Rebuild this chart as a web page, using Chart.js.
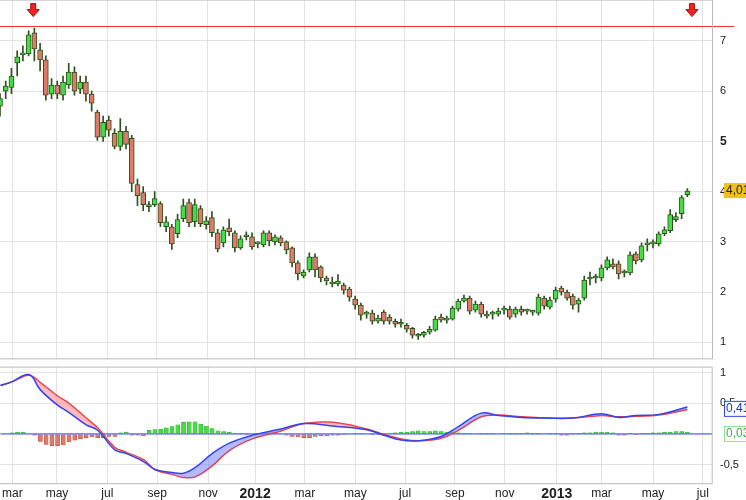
<!DOCTYPE html>
<html><head><meta charset="utf-8">
<script src="https://cdn.jsdelivr.net/npm/chart.js@4.4.0/dist/chart.umd.min.js"></script>
<style>
html,body{margin:0;padding:0;background:#fff;overflow:hidden;}
#w1{position:absolute;left:0;top:-15px;width:746px;height:389px;}
#w2{position:absolute;left:0;top:352px;width:746px;height:153px;}
</style></head><body>
<div id="w1"><canvas id="c1"></canvas></div>
<div id="w2"><canvas id="c2"></canvas></div>
<script>
// weekly candles
const opens=[5.70,6.00,6.07,6.56,6.72,6.74,7.16,6.82,6.62,5.94,6.12,5.92,6.12,6.38,6.04,6.18,5.94,5.58,5.08,5.42,5.16,4.90,5.20,5.06,4.14,3.98,3.70,3.74,3.76,3.30,3.30,3.16,3.46,3.78,3.40,3.66,3.34,3.48,3.18,2.98,3.28,3.18,2.88,3.10,3.10,2.96,2.94,3.18,3.00,3.08,3.00,2.88,2.58,2.32,2.44,2.70,2.50,2.28,2.16,2.16,2.14,2.06,1.86,1.74,1.56,1.58,1.42,1.60,1.50,1.42,1.36,1.34,1.28,1.12,1.14,1.20,1.24,1.50,1.44,1.46,1.66,1.82,1.88,1.64,1.76,1.56,1.56,1.56,1.64,1.66,1.56,1.66,1.62,1.60,1.58,1.88,1.70,1.86,2.08,2.00,1.92,1.76,1.88,2.26,2.28,2.28,2.48,2.56,2.56,2.38,2.38,2.76,2.64,2.94,2.96,2.96,3.16,3.22,3.44,3.56,3.94];
const closes=[5.85,6.10,6.30,6.68,6.72,7.12,6.84,6.62,5.92,6.12,5.94,6.18,6.38,6.00,6.18,5.94,5.76,5.08,5.38,5.22,4.90,5.20,4.94,4.16,3.92,3.74,3.70,3.86,3.38,3.40,2.96,3.44,3.72,3.38,3.74,3.36,3.42,3.18,2.86,3.24,3.20,2.88,3.06,3.10,2.90,2.96,3.18,3.02,3.10,2.98,2.84,2.58,2.36,2.40,2.70,2.44,2.28,2.22,2.16,2.22,2.04,1.90,1.74,1.54,1.56,1.42,1.48,1.42,1.42,1.36,1.36,1.26,1.14,1.12,1.20,1.26,1.46,1.44,1.48,1.68,1.82,1.88,1.62,1.76,1.56,1.52,1.56,1.62,1.66,1.50,1.66,1.60,1.62,1.60,1.90,1.72,1.84,2.04,2.00,1.88,1.74,1.84,2.24,2.26,2.28,2.48,2.64,2.50,2.36,2.38,2.74,2.62,2.92,2.94,2.96,3.16,3.24,3.54,3.50,3.88,4.01];
const highs=[5.95,6.20,6.45,6.80,6.90,7.20,7.25,6.95,6.70,6.25,6.20,6.30,6.55,6.48,6.30,6.30,6.00,5.62,5.50,5.50,5.25,5.45,5.30,5.12,4.25,4.10,3.80,4.00,3.80,3.50,3.35,3.55,3.85,3.85,3.85,3.72,3.50,3.60,3.25,3.30,3.45,3.22,3.12,3.20,3.18,3.00,3.22,3.22,3.14,3.12,3.02,2.90,2.62,2.44,2.78,2.76,2.52,2.32,2.30,2.35,2.18,2.10,1.92,1.78,1.62,1.64,1.54,1.64,1.55,1.46,1.46,1.38,1.30,1.18,1.22,1.32,1.52,1.56,1.52,1.72,1.86,1.94,1.92,1.82,1.80,1.62,1.62,1.68,1.72,1.72,1.70,1.72,1.66,1.64,1.96,1.92,1.90,2.10,2.12,2.04,1.96,1.88,2.32,2.40,2.36,2.54,2.70,2.66,2.62,2.44,2.80,2.80,2.98,3.06,3.04,3.20,3.30,3.64,3.58,3.92,4.06];
const lows=[5.50,5.85,5.95,6.30,6.60,6.70,6.60,6.40,5.82,5.85,5.85,5.82,6.05,5.92,5.95,5.80,5.60,5.02,5.00,5.10,4.85,4.82,4.85,4.00,3.72,3.62,3.60,3.70,3.30,3.20,2.85,3.08,3.40,3.30,3.30,3.30,3.25,3.10,2.80,2.90,3.12,2.80,2.85,3.04,2.85,2.88,2.90,2.92,2.94,2.92,2.76,2.50,2.24,2.28,2.40,2.30,2.20,2.14,2.10,2.12,1.96,1.82,1.66,1.44,1.48,1.36,1.38,1.36,1.36,1.30,1.30,1.20,1.08,1.06,1.10,1.16,1.22,1.40,1.38,1.44,1.62,1.80,1.56,1.60,1.50,1.48,1.46,1.52,1.56,1.46,1.50,1.54,1.56,1.54,1.54,1.66,1.66,1.80,1.94,1.84,1.66,1.60,1.84,2.14,2.18,2.22,2.44,2.46,2.26,2.30,2.34,2.56,2.60,2.82,2.88,2.92,3.12,3.18,3.40,3.46,3.90];
// MACD sampled at week index
const macdWeeks=[0,2,5,7,10,12,15,17,20,22,25,27,30,32,34,37,40,44,49,53,58,64,67,70,73,77,80,84,87,91,95,100,105,108,111,115,120];
const macdLine=[0.79,0.85,0.97,0.72,0.47,0.35,0.15,0.06,-0.26,-0.32,-0.45,-0.58,-0.63,-0.64,-0.55,-0.32,-0.15,-0.02,0.08,0.17,0.13,0.07,-0.02,-0.10,-0.11,-0.04,0.12,0.34,0.30,0.27,0.26,0.26,0.33,0.27,0.30,0.32,0.44];
const signalLine=[0.79,0.85,0.96,0.84,0.62,0.50,0.26,0.10,-0.22,-0.30,-0.42,-0.58,-0.66,-0.71,-0.70,-0.52,-0.27,-0.08,0.05,0.17,0.19,0.08,-0.01,-0.08,-0.11,-0.07,0.06,0.28,0.31,0.28,0.26,0.26,0.30,0.28,0.29,0.31,0.40];
const histValues=[0,0,0.02,0.03,0.03,0,-0.02,-0.12,-0.17,-0.19,-0.19,-0.18,-0.13,-0.10,-0.08,-0.06,-0.05,-0.06,-0.06,-0.04,-0.04,0.02,0.03,-0.02,-0.02,-0.03,0.06,0.07,0.08,0.10,0.12,0.15,0.19,0.20,0.20,0.16,0.13,0.09,0.05,0.04,0.03,0.01,0.01,-0.01,0,0.01,0.02,0.02,0.02,0,-0.02,-0.04,-0.05,-0.06,-0.06,-0.04,-0.03,-0.03,-0.02,-0.02,-0.01,0,0.01,0.01,0,-0.01,-0.01,-0.02,0,0.02,0.03,0.03,0.04,0.05,0.04,0.04,0.05,0.04,0.03,0.03,0.02,0.01,0.01,0,0.01,0.01,0.01,0,0.01,0.01,0.01,0.01,0.02,0.01,0.01,0,0.01,0.01,-0.02,-0.02,0.01,0.01,0.02,0.02,0.03,0.03,0.03,0.02,-0.02,-0.02,0.01,-0.01,0.01,0.01,0.02,0.02,0.03,0.03,0.04,0.04,0.03];
const monthTicks=[2.1,9.9,18.7,27.4,36.3,44.5,53.2,62,70.7,79.4,88.1,97.2,105,114,122.7];
const monthLabels=['mar','may','jul','sep','nov','2012','mar','may','jul','sep','nov','2013','mar','may','jul'];
const priceTicks=[1,2,3,4,5,6,7];
const lastPrice=4.01, resistance=7.3, arrowWeeks=[5.8,120.8];
const lastMacd=0.41, lastHist=0.03;

const idx=closes.map((_,i)=>i);
const GREEN='#44dd44', RED='#dd7b66', EDGE='#2f4f1f';
const XMIN=0, XMAX=124.3;
const font={family:'Liberation Sans, Arial, sans-serif',size:11};
const gridC='#e2e2e2';
function xScale(showLabels){return {type:'linear',min:XMIN,max:XMAX,offset:false,
  afterBuildTicks:s=>{s.ticks=monthTicks.map(v=>({value:v}));},
  ticks:{display:showLabels,autoSkip:false,maxRotation:0,color:'#222',padding:2,
    font:c=>{const l=monthLabels[c.index]||'';return /^\d{4}$/.test(l)?{family:font.family,size:14,weight:'bold'}:{family:font.family,size:12};},
    callback:(v,i)=>monthLabels[i]},
  grid:{color:gridC,drawTicks:false,offset:false},border:{display:false}};}
function tag(ctx,area,y,text,bg,bd,fg){
  ctx.save();ctx.font='12px Liberation Sans, Arial';
  const w=ctx.measureText(text).width+4;
  ctx.fillStyle=bg;ctx.fillRect(area.right+12,y-8,w,15);
  if(bd){ctx.strokeStyle=bd;ctx.strokeRect(area.right+12.5,y-7.5,w,15);}
  ctx.fillStyle=fg;ctx.textBaseline='middle';ctx.fillText(text,area.right+14,y);ctx.restore();
}
const frame={id:'frame',afterDraw(c){const a=c.chartArea,ctx=c.ctx;ctx.save();ctx.strokeStyle='#bbb';ctx.lineWidth=1;
  ctx.strokeRect(Math.round(a.left)-0.5,a.top+0.5,a.right-a.left+1,a.bottom-a.top-1);ctx.restore();}};
const mainExtras={id:'mainExtras',afterDatasetsDraw(c){
  const ctx=c.ctx,a=c.chartArea,x=c.scales.x,y=c.scales.y;
  ctx.save();ctx.strokeStyle='#ff3333';ctx.lineWidth=1;
  const ry=Math.round(y.getPixelForValue(resistance))+0.5;
  ctx.beginPath();ctx.moveTo(a.left,ry);ctx.lineTo(a.right+22,ry);ctx.stroke();
  arrowWeeks.forEach(w=>{const px=x.getPixelForValue(w);ctx.fillStyle='#e22';ctx.strokeStyle='#a11';ctx.lineWidth=1;
    const t=a.top+4;
    ctx.beginPath();ctx.moveTo(px-2.5,t);ctx.lineTo(px+2.5,t);ctx.lineTo(px+2.5,t+6);ctx.lineTo(px+6,t+6);ctx.lineTo(px,t+13);ctx.lineTo(px-6,t+6);ctx.lineTo(px-2.5,t+6);ctx.closePath();ctx.fill();ctx.stroke();});
  ctx.restore();
  tag(ctx,a,y.getPixelForValue(lastPrice),'4,01','#f0c020',null,'#222');
}};
const macdExtras={id:'macdExtras',afterDraw(c){const a=c.chartArea,y=c.scales.y;
  tag(c.ctx,a,y.getPixelForValue(lastMacd),'0,41','#fff','#3344dd','#2233cc');
  tag(c.ctx,a,y.getPixelForValue(0),'0,03','#fff','#99dd99','#44aa44');}};

new Chart(document.getElementById('c1'),{
  data:{datasets:[
    {type:'bar',data:idx.map(i=>({x:i,y:[lows[i],highs[i]]})),backgroundColor:EDGE,barThickness:1,grouped:false,order:2},
    {type:'bar',data:idx.map(i=>({x:i,y:[opens[i],closes[i]]})),backgroundColor:idx.map(i=>closes[i]>=opens[i]?GREEN:RED),
      borderColor:EDGE,borderWidth:1,borderSkipped:false,barThickness:5,minBarLength:2,grouped:false,order:1}
  ]},
  options:{responsive:true,maintainAspectRatio:false,animation:false,layout:{padding:0},
    plugins:{legend:{display:false},tooltip:{enabled:false}},
    scales:{x:xScale(false),
      y:{position:'right',min:0.66,max:7.82,afterBuildTicks:s=>{s.ticks=priceTicks.map(v=>({value:v}));},
        afterFit:s=>{s.width=34;},
        ticks:{color:'#222',padding:8,font:c=>c.tick&&c.tick.value===5?{family:font.family,size:12,weight:'bold'}:{family:font.family,size:11}},
        grid:{color:gridC,drawTicks:false},border:{display:false}}}},
  plugins:[frame,mainExtras]
});

new Chart(document.getElementById('c2'),{
  data:{datasets:[
    {type:'line',data:macdWeeks.map((w,i)=>({x:w,y:macdLine[i]})),borderColor:'#3344ee',borderWidth:1.5,pointRadius:0,tension:0.4,
      fill:{target:1,above:'rgba(120,130,255,0.55)',below:'rgba(255,120,120,0.5)'},order:1},
    {type:'line',data:macdWeeks.map((w,i)=>({x:w,y:signalLine[i]})),borderColor:'#ee3333',borderWidth:1.5,pointRadius:0,tension:0.4,fill:false,order:2},
    {type:'bar',data:idx.map(i=>({x:i,y:histValues[i]})),backgroundColor:idx.map(i=>histValues[i]>=0?GREEN:RED),
      borderColor:idx.map(i=>histValues[i]>=0?'#339933':'#aa4444'),borderWidth:0.5,barThickness:4,order:4},
    {type:'line',data:[{x:XMIN,y:0},{x:XMAX,y:0}],borderColor:'#3344ee',borderWidth:1,pointRadius:0,order:3}
  ]},
  options:{responsive:true,maintainAspectRatio:false,animation:false,layout:{padding:0},
    plugins:{legend:{display:false},tooltip:{enabled:false}},
    scales:{x:xScale(true),
      y:{position:'right',min:-0.82,max:1.1,afterBuildTicks:s=>{s.ticks=[-0.5,0,0.5,1].map(v=>({value:v}));},
        afterFit:s=>{s.width=34;},
        ticks:{color:'#222',padding:8,font:{family:font.family,size:11},callback:v=>v===0?'':String(v).replace('.',',')},
        grid:{color:gridC,drawTicks:false},border:{display:false}}}},
  plugins:[frame,macdExtras]
});
</script></body></html>
